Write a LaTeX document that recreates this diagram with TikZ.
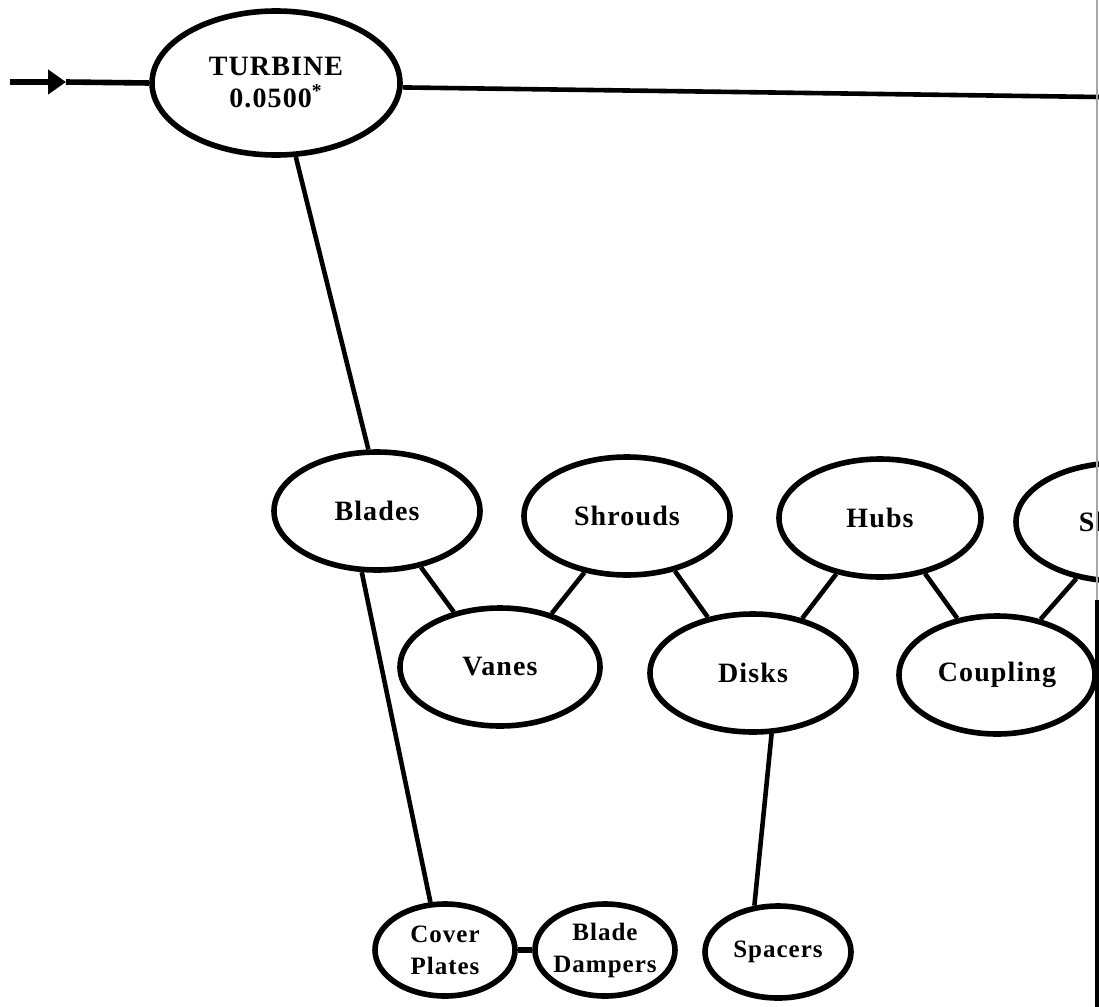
\documentclass[tikz,border=0pt]{standalone}
\usepackage{fontspec}
\setmainfont[LetterSpace=4]{Liberation Serif}
\usetikzlibrary{shapes.geometric,arrows.meta}
\begin{document}
\begin{tikzpicture}[x=0.5pt,y=-0.5pt,
  part/.style={ellipse,draw,line width=2.8pt,minimum width=103pt,minimum height=59pt,
    inner sep=-14pt,align=center,font=\bfseries\fontsize{14}{16}\selectfont},
  small/.style={part,minimum width=70pt,minimum height=46pt,
    font=\bfseries\fontsize{12.5}{16}\selectfont},
  link/.style={line width=2.3pt}]
  % page area
  \clip (0,0) rectangle (1099,1007);

  % top-level assembly
  \node[part,minimum width=124pt,minimum height=72pt] (turbine) at (276,83)
    {TURBINE\\0.0500\textsuperscript{*}};

  % first-level parts
  \node[part] (blades) at (377,511) {Blades};
  \node[part] (shrouds) at (627,516) {Shrouds};
  \node[part,minimum width=101pt] (hubs) at (880,518) {Hubs};
  \node[part] (shafts) at (1119,522) {Shafts};
  \node[part,minimum width=100pt] (vanes) at (500,667) {Vanes};
  \node[part] (disks) at (753,673) {Disks};
  \node[part,minimum width=98pt] (coupling) at (997,675) {Coupling};

  % second-level parts
  \node[small] (cover) at (445,950) {Cover\\Plates};
  \node[small] (dampers) at (605,950) {Blade\\Dampers};
  \node[small,minimum width=73pt] (spacers) at (778,952) {Spacers};

  % incoming and outgoing lines
  \coordinate (feed) at (10,82);
  \coordinate (tip) at (66,82);
  \coordinate (out) at (1099,97);
  \draw[line width=2.8pt,-{Triangle[length=9pt,width=12pt]}] (feed) -- (tip);
  \draw[line width=2.8pt] (tip) -- (turbine.west);
  \draw[link] (turbine.-2) -- (out);

  % tree links
  \draw[link] (turbine.-75.6) -- (blades.98.4);
  \draw[link] (blades.-104.4) -- (cover.107);
  \draw[link] (blades.-52) -- (vanes.130);
  \draw[link] (shrouds.-127.7) -- (vanes.46);
  \draw[link] (shrouds.-49.9) -- (disks.129.6);
  \draw[link] (hubs.-128.3) -- (disks.48.2);
  \draw[link] (hubs.-51.5) -- (coupling.125.9);
  \draw[link] (shafts.-127) -- (coupling.52.3);
  \draw[link] (disks.-73) -- (spacers.117.6);
  \draw[line width=3pt] (cover.east) -- (dampers.west);

  % page edge on the right
  \coordinate (edgetop) at (1097,0);
  \coordinate (edgemid) at (1097,600);
  \coordinate (edgebot) at (1097,1007);
  \draw[gray!70,line width=0.8pt] (edgetop) -- (edgemid);
  \draw[line width=1.8pt] (edgemid) -- (edgebot);
\end{tikzpicture}
\end{document}
